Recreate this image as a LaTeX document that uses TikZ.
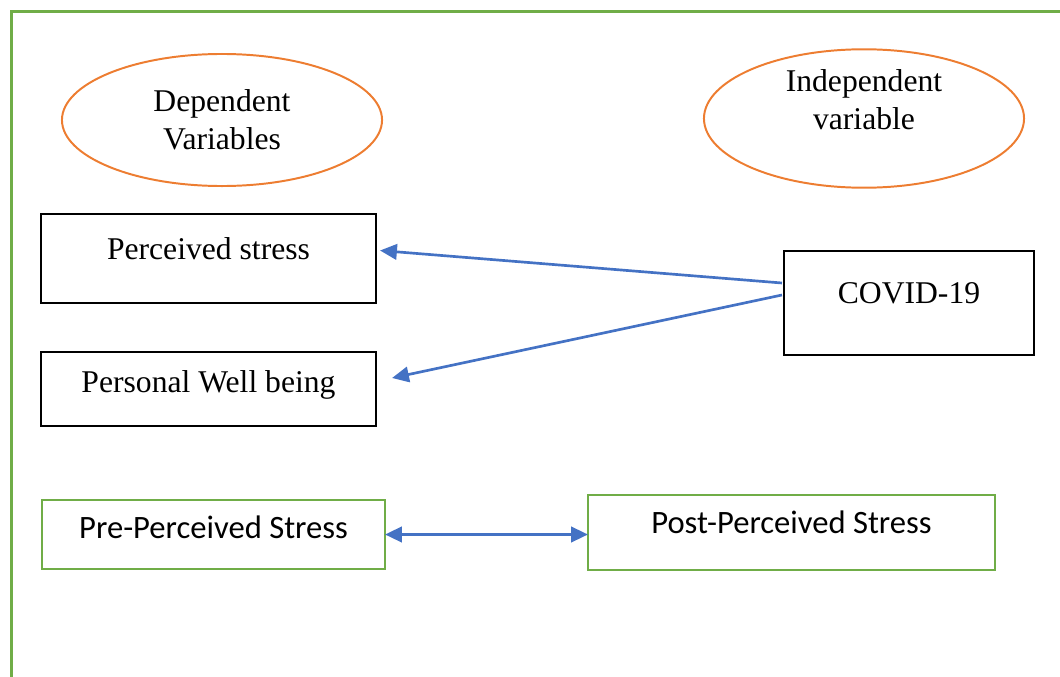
\documentclass[tikz,border=0pt]{standalone}
\usepackage{fontspec}
\setmainfont{Liberation Serif}
\setsansfont{Carlito}
\usetikzlibrary{positioning}
\usetikzlibrary{calc}
\usetikzlibrary{shapes.geometric, arrows.meta}
\definecolor{frameGreen}{HTML}{70AD47}
\definecolor{ovalOrange}{HTML}{ED7D31}
\definecolor{arrowBlue}{HTML}{4472C4}
\tikzset{
	every node/.style={align=center, inner sep=0pt, outer sep=0pt},
	oval/.style={ellipse, draw=ovalOrange, line width=1.4pt, minimum width=8cm,
		font=\fontsize{22.5}{27}\selectfont},
	blackbox/.style={rectangle, draw=black, line width=1.6pt,
		font=\fontsize{22.5}{27}\selectfont},
	greenbox/.style={rectangle, draw=frameGreen, line width=1.6pt,
		font=\sffamily\fontsize{23.2}{27}\selectfont},
	link/.style={draw=arrowBlue, line width=1.9pt,
		-{Triangle[length=12pt,width=11pt]}},
	twolink/.style={draw=arrowBlue, line width=1.9pt,
		{Triangle[length=12pt,width=11pt]}-{Triangle[length=12pt,width=11pt]}}
}

\begin{document}
\begin{tikzpicture}[x=0.025cm, y=-0.025cm]
	\useasboundingbox (0,0) rectangle (1060,677);
	% Frame
	\draw[frameGreen, line width=2.1pt] (11.3,677) -- (11.3,11.3) -- (1060,11.3);

	% Variable ovals
	\node (dep) [oval, minimum height=3.3cm] at (222,120) {Dependent\\Variables};
	\node (indep) [oval, minimum height=3.325cm, text depth=27pt] at (864,118.5) {Independent\\variable};

	% Boxes
	\node (ps) [blackbox, minimum width=8.375cm, minimum height=2.225cm, text depth=14pt] at (208.5,258.5) {Perceived stress};
	\node (pwb) [blackbox, minimum width=8.375cm, minimum height=1.85cm, text depth=10pt] at (208.5,389) {Personal Well being};
	\node (cov) [blackbox, minimum width=6.25cm, minimum height=2.6cm, text depth=14pt] at (909,303) {COVID-19};
	\node (pre) [greenbox, minimum width=8.575cm, minimum height=1.725cm, text depth=10pt] at (213.5,534.5) {Pre-Perceived Stress};
	\node (post) [greenbox, minimum width=10.175cm, minimum height=1.875cm, text depth=14pt] at (791.5,532.5) {Post-Perceived Stress};

	% Links
	\path[link] ($(cov.west)+(-2,-20)$) -- ($(ps.east)+(4,-8)$);
	\path[link] ($(cov.west)+(-2,-8)$) -- ($(pwb.east)+(16,-11)$);
	\path[twolink] (pre.east) -- (pre.east -| post.west);

\end{tikzpicture}
\end{document}
